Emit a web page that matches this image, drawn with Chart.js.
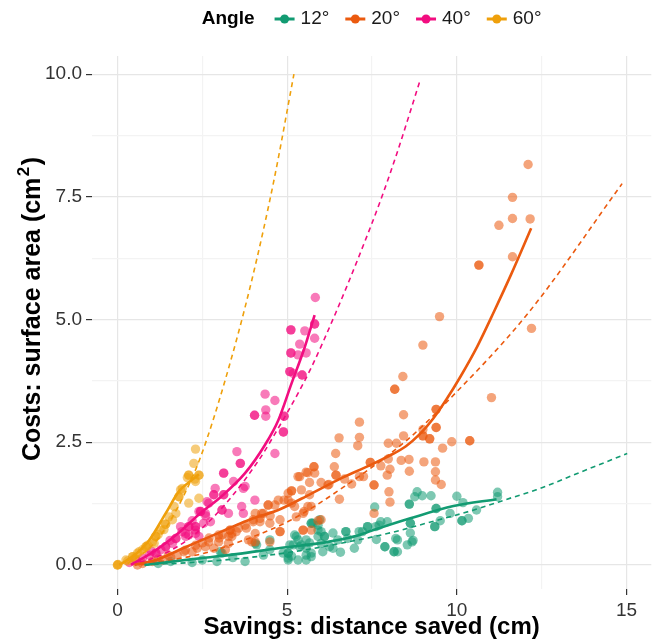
<!DOCTYPE html>
<html>
<head>
<meta charset="utf-8">
<script src="https://cdn.jsdelivr.net/npm/chart.js@4/dist/chart.umd.min.js"></script>
<style>
  html, body { margin: 0; padding: 0; background: #fff; }
  canvas { display: block; }
</style>
</head>
<body>
<canvas id="chart" width="656" height="644"></canvas>
<script>
// groups and colours
const angles = ['12°', '20°', '40°', '60°'];
const colors = ['#129b72', '#eb5a0f', '#f20d80', '#efa00b'];

// tick positions / labels
const xTickVals = [0, 2.5, 5, 7.5, 10, 12.5, 15];
const xTickLabels = ['0', '', '5', '', '10', '', '15'];
const yTickVals = [0, 1.25, 2.5, 3.75, 5, 6.25, 7.5, 8.75, 10];
const yTickLabels = ['0.0', '', '2.5', '', '5.0', '', '7.5', '', '10.0'];

// measured points [distance saved, surface area]
const pts12 = [
  [1.57,0.07],[2.2,0.05],[2.93,0.07],[3.03,0.27],[3.08,0.24],[3.76,0.07],[4.06,0.44],[4.1,0.41],
  [4.49,0.31],[4.49,0.51],[4.88,0.24],[5.03,0.14],[5.03,0.24],[5.03,0.1],[5.08,0.41],[5.13,0.18],
  [5.18,0.41],[5.22,0.61],[5.27,0.58],[5.32,0.51],[5.32,0.1],[5.37,0.37],[5.42,0.41],[5.56,0.51],
  [5.56,0.34],[5.56,0.2],[5.56,0.1],[5.66,0.45],[5.71,0.85],[5.71,0.24],[5.71,0.17],[5.76,0.85],
  [5.91,0.71],[5.91,0.81],[5.91,0.58],[5.96,0.92],[6.0,0.68],[6.0,0.44],[6.05,0.27],[6.1,0.58],
  [6.25,0.37],[6.35,0.65],[6.35,0.34],[6.49,0.51],[6.57,0.26],[6.73,0.68],[6.78,0.54],[6.98,0.34],
  [7.08,0.51],[7.12,0.68],[7.22,0.68],[7.37,0.78],[7.58,1.18],[7.61,0.78],[7.63,0.52],[7.71,0.81],
  [7.76,0.88],[7.88,0.37],[7.95,0.88],[8.15,0.27],[8.2,0.54],[8.25,0.51],[8.25,0.27],[8.54,0.41],
  [8.6,1.24],[8.63,0.85],[8.63,0.65],[8.68,0.47],[8.71,0.5],[8.76,1.39],[8.83,1.49],[8.98,1.41],
  [9.24,1.41],[9.35,0.78],[9.39,1.15],[9.51,0.9],[9.8,1.05],[10.0,1.4],[10.15,0.9],[10.18,1.27],
  [10.34,0.95],[10.58,1.12],[11.2,1.48],[11.2,1.39],
  [5.71,0.85],[6.1,0.58],[7.37,0.78],[8.6,1.24],[8.63,0.85],[9.35,0.78],[10.15,0.9],[6.73,0.68],
  [5.03,0.24],[7.88,0.37],[8.15,0.27],[9.39,1.15],[1.2,0.03],[2.5,0.1],[3.4,0.15],[4.3,0.2]
];
const pts20 = [
  [0.59,0.0],[0.74,0.03],[1.03,0.07],[1.33,0.1],[1.57,0.16],[1.76,0.2],[1.96,0.27],[2.2,0.27],
  [2.35,0.34],[2.59,0.37],[2.69,0.47],[2.84,0.34],[2.98,0.47],[2.98,0.61],[3.18,0.31],[3.27,0.58],
  [3.27,0.44],[3.32,0.71],[3.37,0.58],[3.37,0.64],[3.57,0.75],[3.76,0.81],[3.86,0.51],[3.96,0.47],
  [4.0,0.88],[4.0,0.92],[4.06,1.05],[4.06,0.64],[4.06,0.47],[4.2,0.88],[4.25,1.05],[4.3,1.05],
  [4.44,1.22],[4.49,0.85],[4.49,0.47],[4.64,1.22],[4.74,1.32],[4.79,0.92],[4.79,0.68],[4.91,1.32],
  [5.03,1.32],[5.03,1.46],[5.13,1.51],[5.13,1.26],[5.22,1.19],[5.27,0.98],[5.32,1.8],[5.37,1.8],
  [5.42,1.53],[5.47,1.05],[5.47,0.71],[5.5,1.09],[5.56,1.89],[5.61,1.88],[5.61,1.19],[5.66,1.68],
  [5.66,1.43],[5.71,1.19],[5.71,0.71],[5.79,2.0],[5.81,1.87],[5.91,0.9],[6.0,1.68],[6.0,0.92],
  [6.2,1.63],[6.23,1.64],[6.39,2.0],[6.43,2.27],[6.44,1.83],[6.53,2.59],[6.54,1.34],[6.69,1.75],
  [6.9,1.65],[7.08,2.43],[7.13,2.91],[7.13,2.6],[7.13,1.8],[7.25,1.8],[7.45,2.09],[7.56,1.63],
  [7.56,1.05],[7.76,2.02],[7.95,1.83],[7.98,2.48],[7.98,2.16],[8.0,1.49],[8.03,1.28],[8.03,1.95],
  [8.17,3.58],[8.22,2.48],[8.36,2.13],[8.41,3.84],[8.43,3.06],[8.43,2.63],[8.59,2.15],[8.6,1.91],
  [9.0,4.48],[9.0,2.76],[9.0,2.63],[9.03,2.1],[9.2,2.57],[9.37,1.9],[9.37,1.73],[9.37,2.1],
  [9.39,3.17],[9.39,2.8],[9.49,5.06],[9.54,1.64],[9.58,2.38],[9.85,2.51],[10.38,2.53],[10.65,6.11],
  [11.02,3.41],[11.24,6.92],[11.64,7.49],[11.64,7.06],[11.64,6.28],[12.1,8.16],[12.16,7.05],[12.2,4.82],
  [10.65,6.11],[10.38,2.53],[9.39,3.17],[9.39,2.8],[8.17,3.58],[9.0,2.63],[5.79,2.0],[7.45,2.09],
  [4.79,0.68],[5.47,0.71],[6.44,1.83],[5.13,1.51],[4.44,1.22],[3.32,0.71],[9.2,2.57],[7.56,1.63],
  [1.5,0.2],[2.0,0.3],[2.5,0.45],[2.7,0.55],[3.0,0.55],[3.5,0.68],[3.8,0.75],[4.2,0.95],[4.5,1.0],
  [1.2,0.12],[2.3,0.4],[3.1,0.62]
];
const pts40 = [
  [0.35,0.05],[0.55,0.1],[0.74,0.14],[0.94,0.2],[1.13,0.24],[1.28,0.31],[1.42,0.37],[1.62,0.44],
  [1.72,0.54],[1.86,0.78],[2.01,0.58],[2.01,0.64],[2.1,0.78],[2.1,0.61],[2.3,0.78],[2.3,0.64],
  [2.3,0.71],[2.4,1.09],[2.45,1.09],[2.4,0.58],[2.54,0.85],[2.59,1.05],[2.64,1.29],[2.69,1.26],
  [2.74,0.88],[2.84,1.43],[2.88,1.56],[3.08,1.12],[3.13,1.43],[3.13,1.87],[3.27,1.05],[3.42,1.7],
  [3.52,2.31],[3.62,2.07],[3.66,1.19],[3.71,1.05],[3.71,1.56],[3.76,1.6],[4.05,1.32],[4.04,3.05],
  [4.35,3.48],[4.37,3.16],[4.37,3.03],[4.64,3.35],[4.64,2.27],[4.89,2.71],[4.91,3.03],[5.08,3.94],
  [5.11,4.32],[5.11,4.79],[5.18,3.9],[5.32,4.28],[5.37,4.5],[5.44,3.87],[5.52,4.77],[5.56,4.32],
  [5.81,4.62],[5.81,4.91],[5.83,5.45],
  [5.11,4.79],[5.11,4.32],[5.08,3.94],[5.81,4.91],[5.44,3.87],[4.91,3.03],[4.89,2.71],[4.04,3.05],
  [3.62,2.07],[3.13,1.87],[3.13,1.43],[2.84,1.43],[3.08,1.12],[2.3,0.78],[2.1,0.78],[1.42,0.37],
  [1.72,0.54],[2.45,1.09],[1.13,0.24],[1.55,0.5],[1.9,0.68],[2.2,0.9],[2.6,1.0],[1.0,0.28]
];
const pts60 = [
  [0,0],[0.02,0.01],[0.25,0.1],[0.3,0.08],[0.45,0.17],[0.5,0.14],[0.59,0.24],[0.64,0.27],
  [0.74,0.31],[0.84,0.37],[0.89,0.4],[1.03,0.47],[1.08,0.44],[1.13,0.58],[1.2,0.62],[1.28,0.71],
  [1.37,0.72],[1.42,0.83],[1.52,0.98],[1.62,0.92],[1.67,1.19],[1.72,1.05],[1.81,1.39],[1.86,1.53],
  [1.91,1.56],[2.06,1.78],[2.1,1.83],[2.1,1.26],[2.25,2.07],[2.28,1.75],[2.3,2.36],[2.4,1.83],
  [2.4,1.36],[2.3,1.7],
  [0,0],[0.45,0.17],[0.84,0.37],[1.13,0.58],[1.42,0.83],[1.81,1.39],[2.4,1.83],[2.1,1.83]
];

// smoothed fits (solid)
const fit12 = [[0.8,0],[1.5,0.06],[2.5,0.14],[3.5,0.22],[4.74,0.34],[6.2,0.47],[7.08,0.6],[7.5,0.7],[8.63,0.95],[9.9,1.2],[11.17,1.34]];
const fit20 = [[0.5,0],[1.13,0.1],[2,0.36],[3.07,0.68],[4,0.95],[4.74,1.12],[5.7,1.45],[6.6,1.77],[7.4,2.02],[8.0,2.22],[8.5,2.42],[8.9,2.66],[9.3,2.98],[9.7,3.38],[10.1,3.83],[10.6,4.45],[11.1,5.17],[11.6,5.92],[12.19,6.86]];
const fit40 = [[0.4,0],[1.13,0.3],[1.8,0.65],[2.4,1.03],[3.07,1.4],[3.76,1.87],[4.35,2.45],[4.74,2.95],[5.13,3.7],[5.5,4.4],[5.81,5.09]];
const fit60 = [[0.05,0],[0.45,0.17],[0.94,0.51],[1.42,1.05],[1.81,1.5],[2.1,1.68],[2.4,1.85]];

// theoretical curves (dashed)
const theory12 = [[0.8,0],[2.4,0.06],[3.86,0.15],[5,0.25],[6.2,0.39],[7.95,0.64],[9.2,0.87],[10.5,1.12],[11.66,1.38],[12.34,1.53],[13.75,1.92],[15.02,2.27]];
const theory20 = [[0.7,0],[2.5,0.23],[3.86,0.54],[5.1,0.91],[6.69,1.6],[8.54,2.55],[9.76,3.36],[12.1,5.13],[14.87,7.77]];
const theory40 = [[0.4,0.02],[1,0.12],[2,0.48],[3,1.1],[4.15,2.12],[4.74,2.79],[5.3,3.47],[5.71,4.02],[6.44,5.15],[7.1,6.26],[7.78,7.48],[8.25,8.42],[8.92,9.88]];
const theory60 = [[0.3,0.03],[1,0.38],[1.5,0.84],[2,1.48],[2.45,2.2],[3.18,3.78],[3.94,5.75],[4.6,7.8],[5.2,10.0]];

const points = [pts12, pts20, pts40, pts60];
const fits = [fit12, fit20, fit40, fit60];
const theories = [theory12, theory20, theory40, theory60];

const FONT = '"Liberation Sans", Arial, Helvetica, sans-serif';
Chart.defaults.font.family = FONT;

const toXY = arr => arr.map(p => ({ x: p[0], y: p[1] }));
function withAlpha(hex, a) {
  const n = parseInt(hex.slice(1), 16);
  return `rgba(${(n >> 16) & 255}, ${(n >> 8) & 255}, ${n & 255}, ${a})`;
}

const datasets = [];
angles.forEach((a, i) => {
  datasets.push({
    label: a + ' fit', data: toXY(fits[i]), showLine: true,
    borderColor: colors[i], borderWidth: 2.6, pointRadius: 0,
    cubicInterpolationMode: 'monotone', order: 0
  });
  datasets.push({
    label: a + ' theory', data: toXY(theories[i]), showLine: true,
    borderColor: colors[i], borderWidth: 1.6, borderDash: [5, 4], pointRadius: 0,
    cubicInterpolationMode: 'monotone', order: 0
  });
  datasets.push({
    label: a, data: toXY(points[i]), showLine: false,
    backgroundColor: withAlpha(colors[i], 0.55), borderWidth: 0,
    pointRadius: 4.7, pointHoverRadius: 4.7, order: 4 - i
  });
});

// legend in the top margin (bold title, then line+dot keys) and the y title with a raised 2
const annotations = {
  id: 'annotations',
  afterDraw(chart) {
    const ctx = chart.ctx;
    const area = chart.chartArea;
    ctx.save();
    const y = 19;
    ctx.textBaseline = 'middle';
    ctx.font = 'bold 19px ' + FONT;
    const titleW = ctx.measureText('Angle').width;
    ctx.font = '19px ' + FONT;
    const symW = 20, symGap = 6, itemGap = 16, titleGap = 20;
    const widths = angles.map(a => ctx.measureText(a).width);
    let total = titleW + titleGap;
    widths.forEach((w, i) => { total += symW + symGap + w + (i < widths.length - 1 ? itemGap : 0); });
    let x = (area.left + area.right) / 2 - total / 2;
    ctx.fillStyle = '#000';
    ctx.font = 'bold 19px ' + FONT;
    ctx.textAlign = 'left';
    ctx.fillText('Angle', x, y);
    x += titleW + titleGap;
    ctx.font = '19px ' + FONT;
    angles.forEach((a, i) => {
      ctx.strokeStyle = colors[i];
      ctx.lineWidth = 3;
      ctx.beginPath();
      ctx.moveTo(x, y);
      ctx.lineTo(x + symW, y);
      ctx.stroke();
      ctx.fillStyle = colors[i];
      ctx.beginPath();
      ctx.arc(x + symW / 2, y, 4.5, 0, Math.PI * 2);
      ctx.fill();
      x += symW + symGap;
      ctx.fillStyle = '#1a1a1a';
      ctx.fillText(a, x, y);
      x += widths[i] + itemGap;
    });

    // y axis title, rotated
    const main = 'Costs: surface area (cm', sup = '2', close = ')';
    const bigFont = 'bold 25px ' + FONT, supFont = 'bold 17px ' + FONT;
    ctx.font = bigFont;
    const w1 = ctx.measureText(main).width, w3 = ctx.measureText(close).width;
    ctx.font = supFont;
    const w2 = ctx.measureText(sup).width + 3;
    const tw = w1 + w2 + w3;
    ctx.translate(31, 309);
    ctx.rotate(-Math.PI / 2);
    ctx.fillStyle = '#000';
    ctx.textAlign = 'left';
    ctx.textBaseline = 'alphabetic';
    let tx = -tw / 2;
    const base = 9;
    ctx.font = bigFont;
    ctx.fillText(main, tx, base);
    tx += w1 + 1.5;
    ctx.font = supFont;
    ctx.fillText(sup, tx, base - 11);
    tx += w2 - 1.5;
    ctx.font = bigFont;
    ctx.fillText(close, tx, base);
    ctx.restore();
  }
};

const majorGrid = '#e6e6e6';
const minorGrid = '#f3f3f3';
const tickInk = '#333333';

new Chart(document.getElementById('chart'), {
  type: 'scatter',
  data: { datasets },
  options: {
    responsive: false,
    animation: false,
    layout: { padding: { top: 56, right: 0, left: 0, bottom: 0 } },
    plugins: { legend: { display: false }, tooltip: { enabled: false } },
    scales: {
      x: {
        type: 'linear', min: -0.75, max: 15.73,
        afterBuildTicks: s => { s.ticks = xTickVals.map(v => ({ value: v })); },
        afterFit: s => { s.height = 55; },
        border: { display: false },
        grid: {
          color: c => xTickLabels[c.index] ? majorGrid : minorGrid,
          tickColor: c => xTickLabels[c.index] ? tickInk : 'rgba(0,0,0,0)',
          lineWidth: 1.2, tickLength: 6, drawTicks: true
        },
        ticks: {
          autoSkip: false, maxRotation: 0, padding: 4, color: '#333',
          font: { size: 19 },
          callback: (v, i) => xTickLabels[i]
        },
        title: {
          display: true, text: 'Savings: distance saved (cm)', color: '#000',
          font: { size: 24, weight: 'bold' }, padding: { top: 0, bottom: 2 }
        }
      },
      y: {
        type: 'linear', min: -0.49, max: 10.37,
        afterBuildTicks: s => { s.ticks = yTickVals.map(v => ({ value: v })); },
        afterFit: s => { s.width = 92; },
        border: { display: false },
        grid: {
          color: c => yTickLabels[c.index] ? majorGrid : minorGrid,
          tickColor: c => yTickLabels[c.index] ? tickInk : 'rgba(0,0,0,0)',
          lineWidth: 1.2, tickLength: 6, drawTicks: true
        },
        ticks: {
          autoSkip: false, padding: 4, color: '#333',
          font: { size: 19 },
          callback: (v, i) => yTickLabels[i]
        }
      }
    }
  },
  plugins: [annotations]
});
</script>
</body>
</html>
